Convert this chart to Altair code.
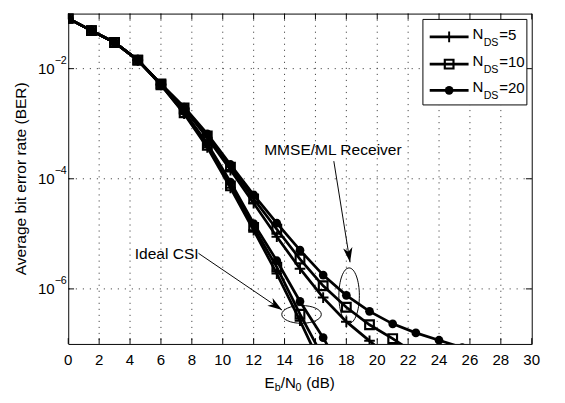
import altair as alt
import pandas as pd

FONT = "Liberation Sans, Arial, Helvetica, sans-serif"

snr = [0, 1.5, 3, 4.5, 6, 7.5, 9, 10.5, 12, 13.5, 15, 16.5, 18, 19.5, 21, 22.5, 24, 25.5]

mmse_n5 = [0.0818, 0.0490, 0.0299, 0.0143, 5.19e-3, 1.86e-3, 5.56e-4, 1.44e-4, 3.60e-5,
           8.89e-6, 2.33e-6, 6.96e-7, 2.54e-7, 1.14e-7, 5.1e-8]
mmse_n10 = [0.0818, 0.0490, 0.0299, 0.0143, 5.29e-3, 1.93e-3, 6.02e-4, 1.63e-4, 4.31e-5,
            1.21e-5, 3.48e-6, 1.14e-6, 4.65e-7, 2.23e-7, 1.25e-7, 6.6e-8]
mmse_n20 = [0.0818, 0.0490, 0.0299, 0.0143, 5.29e-3, 2.01e-3, 6.53e-4, 1.82e-4, 5.10e-5,
            1.56e-5, 5.06e-6, 1.78e-6, 7.64e-7, 3.91e-7, 2.32e-7, 1.59e-7, 1.17e-7, 8.6e-8]
ideal_n5 = [0.0818, 0.0490, 0.0299, 0.0143, 5.08e-3, 1.52e-3, 3.71e-4, 6.85e-5, 1.16e-5,
            1.90e-6, 2.65e-7, 3.4e-8]
ideal_n10 = [0.0818, 0.0490, 0.0299, 0.0143, 5.08e-3, 1.58e-3, 4.03e-4, 7.42e-5, 1.31e-5,
             2.49e-6, 3.47e-7, 5.7e-8]
ideal_n20 = [0.0818, 0.0490, 0.0299, 0.0143, 5.19e-3, 1.65e-3, 4.36e-4, 8.72e-5, 1.54e-5,
             3.25e-6, 5.92e-7, 1.30e-7, 2.3e-8]

series = [("MMSE", 5, mmse_n5), ("MMSE", 10, mmse_n10), ("MMSE", 20, mmse_n20),
          ("Ideal", 5, ideal_n5), ("Ideal", 10, ideal_n10), ("Ideal", 20, ideal_n20)]

legend_n = [5, 10, 20]
legend_suffix = ["=5", "=10", "=20"]

xtick_vals = list(range(0, 31, 2))
xgrid_vals = list(range(2, 29, 2))
ytick_vals = [1e-2, 1e-4, 1e-6]
ytick_exp = ["\u22122", "\u22124", "\u22126"]

ann_text = ["Ideal CSI", "MMSE/ML Receiver"]
ann_x = [4.30, 12.68]
ann_y = [4.26e-6, 3.29e-4]
arrow_x1 = [8.43, 17.19]
arrow_y1 = [4.43e-6, 2.09e-4]
arrow_x2 = [13.84, 18.24]
arrow_y2 = [4.12e-7, 3.05e-6]
arrow_angle = [124, 171]
ell_x = [15.1, 18.18]
ell_y = [3.44e-7, 7.55e-7]

rows = []
for rec, n, vals in series:
    for s, b in zip(snr, vals):
        rows.append({"rec": rec, "n": n, "snr": s, "ber": b, "series": f"{rec}-{n}"})
df = pd.DataFrame(rows)

W, H = 477, 340
xs = alt.Scale(domain=[0, 30], nice=False, zero=False)
ys = alt.Scale(type="log", domain=[1e-7, 1e-1], nice=False)
X = lambda f: alt.X(f, scale=xs, axis=None)
Y = lambda f: alt.Y(f, scale=ys, axis=None)
one = pd.DataFrame({"k": [0]})

layers = []
# grid
layers.append(alt.Chart(pd.DataFrame({"v": xgrid_vals})).mark_rule(
    color="#444", strokeWidth=1, strokeDash=[1.2, 5]).encode(x=X("v:Q")))
layers.append(alt.Chart(pd.DataFrame({"v": ytick_vals})).mark_rule(
    color="#444", strokeWidth=1, strokeDash=[1.2, 6]).encode(y=Y("v:Q")))
# inward ticks
xt = pd.DataFrame({"v": xtick_vals})
yt = pd.DataFrame({"v": ytick_vals, "e": ytick_exp})
layers.append(alt.Chart(xt).mark_rule(color="black").encode(x=X("v:Q"), y=alt.value(H), y2=alt.value(H - 6)))
layers.append(alt.Chart(xt).mark_rule(color="black").encode(x=X("v:Q"), y=alt.value(0), y2=alt.value(6)))
layers.append(alt.Chart(yt).mark_rule(color="black").encode(y=Y("v:Q"), x=alt.value(0), x2=alt.value(6)))
layers.append(alt.Chart(yt).mark_rule(color="black").encode(y=Y("v:Q"), x=alt.value(W), x2=alt.value(W - 6)))
# tick labels
layers.append(alt.Chart(xt).mark_text(font=FONT, fontSize=15.5, baseline="middle", align="center").encode(
    x=X("v:Q"), y=alt.value(H + 17), text="v:Q"))
layers.append(alt.Chart(yt).mark_text(font=FONT, fontSize=15.5, baseline="middle", align="right").encode(
    y=Y("v:Q"), x=alt.value(-14), text=alt.value("10")))
layers.append(alt.Chart(yt).mark_text(font=FONT, fontSize=11, baseline="middle", align="left", dy=-8).encode(
    y=Y("v:Q"), x=alt.value(-14), text="e:N"))

# curves
layers.append(alt.Chart(df).mark_line(color="black", strokeWidth=2.8, clip=True).encode(
    x=X("snr:Q"), y=Y("ber:Q"), detail="series:N", order="snr:Q"))
plus_path = "M-1,0L1,0M0,-1L0,1"
layers.append(alt.Chart(df[df.n == 5]).mark_point(shape=plus_path, size=120, filled=False, color="black",
                                                  strokeWidth=2, opacity=1, clip=True).encode(
    x=X("snr:Q"), y=Y("ber:Q")))
layers.append(alt.Chart(df[df.n == 10]).mark_point(shape="square", size=80, filled=False, color="black",
                                                   strokeWidth=2.2, opacity=1, clip=True).encode(
    x=X("snr:Q"), y=Y("ber:Q")))
layers.append(alt.Chart(df[df.n == 20]).mark_point(shape="circle", size=80, filled=True, color="black",
                                                   opacity=1, clip=True).encode(
    x=X("snr:Q"), y=Y("ber:Q")))

# annotations
ann = pd.DataFrame({"t": ann_text, "x": ann_x, "y": ann_y})
layers.append(alt.Chart(ann).mark_text(font=FONT, fontSize=16, align="left", baseline="middle").encode(
    x=X("x:Q"), y=Y("y:Q"), text="t:N"))
arr = pd.DataFrame({"x1": arrow_x1, "y1": arrow_y1, "x2": arrow_x2, "y2": arrow_y2, "a": arrow_angle})
layers.append(alt.Chart(arr).mark_rule(color="black", strokeWidth=1).encode(
    x=X("x1:Q"), y=Y("y1:Q"), x2="x2:Q", y2="y2:Q"))
head = "M0,0L0.32,1L0,0.72L-0.32,1Z"
layers.append(alt.Chart(arr).mark_point(shape=head, size=900, filled=True, color="black", opacity=1).encode(
    x=X("x2:Q"), y=Y("y2:Q"), angle=alt.Angle("a:Q", scale=None)))
ell_h = "M-1,0A1,0.45 0 1,1 1,0A1,0.45 0 1,1 -1,0Z"
ell_v = "M0,-1A0.37,1 0 1,1 0,1A0.37,1 0 1,1 0,-1Z"
layers.append(alt.Chart(pd.DataFrame({"x": [ell_x[0]], "y": [ell_y[0]]})).mark_point(
    shape=ell_h, size=1656, filled=False, color="black", strokeWidth=1, opacity=1).encode(x=X("x:Q"), y=Y("y:Q")))
layers.append(alt.Chart(pd.DataFrame({"x": [ell_x[1]], "y": [ell_y[1]]})).mark_point(
    shape=ell_v, size=3249, filled=False, color="black", strokeWidth=1, opacity=1).encode(x=X("x:Q"), y=Y("y:Q")))

# legend
layers.append(alt.Chart(one).mark_rect(fill="white", stroke="black", strokeWidth=1).encode(
    x=alt.value(365), x2=alt.value(472), y=alt.value(6), y2=alt.value(94)))
rows_y = [24, 52, 79]
for n, suf, ly in zip(legend_n, legend_suffix, rows_y):
    layers.append(alt.Chart(one).mark_rule(color="black", strokeWidth=2.8).encode(
        x=alt.value(372), x2=alt.value(412), y=alt.value(ly)))
    if n == 5:
        mk = alt.Chart(one).mark_point(shape=plus_path, size=120, filled=False, color="black", strokeWidth=2, opacity=1)
    elif n == 10:
        mk = alt.Chart(one).mark_point(shape="square", size=80, filled=False, color="black", strokeWidth=2.2, opacity=1)
    else:
        mk = alt.Chart(one).mark_point(shape="circle", size=80, filled=True, color="black", opacity=1)
    layers.append(mk.encode(x=alt.value(392), y=alt.value(ly)))
    layers.append(alt.Chart(one).mark_text(font=FONT, fontSize=15.5, align="left", baseline="middle").encode(
        x=alt.value(416), y=alt.value(ly - 3), text=alt.value("N")))
    layers.append(alt.Chart(one).mark_text(font=FONT, fontSize=11, align="left", baseline="middle").encode(
        x=alt.value(427.5), y=alt.value(ly + 6), text=alt.value("DS")))
    layers.append(alt.Chart(one).mark_text(font=FONT, fontSize=15.5, align="left", baseline="middle").encode(
        x=alt.value(443.5), y=alt.value(ly - 2), text=alt.value(suf)))

# axis titles
layers.append(alt.Chart(one).mark_text(font=FONT, fontSize=16, angle=270, align="center", baseline="middle").encode(
    x=alt.value(-48), y=alt.value(170), text=alt.value("Average bit error rate (BER)")))
xt_parts = [("E", 15.5, 0, 0), ("b", 11, 10.5, 5), ("/N", 15.5, 16.8, 0), ("0", 11, 32, 5), ("(dB)", 15.5, 43, 0)]
x0 = 202
for t, fs, off, dyy in xt_parts:
    layers.append(alt.Chart(one).mark_text(font=FONT, fontSize=fs, align="left", baseline="middle").encode(
        x=alt.value(x0 + off), y=alt.value(H + 40 + dyy), text=alt.value(t)))

chart = alt.layer(*layers).properties(
    width=W, height=H,
    autosize=alt.AutoSizeParams(type="none"),
    padding={"left": 62, "top": 0, "right": 26, "bottom": 55},
    background="white",
).configure_view(stroke="black", strokeWidth=1)

chart.save("out.html", embed_options={"renderer": "svg", "actions": False})
